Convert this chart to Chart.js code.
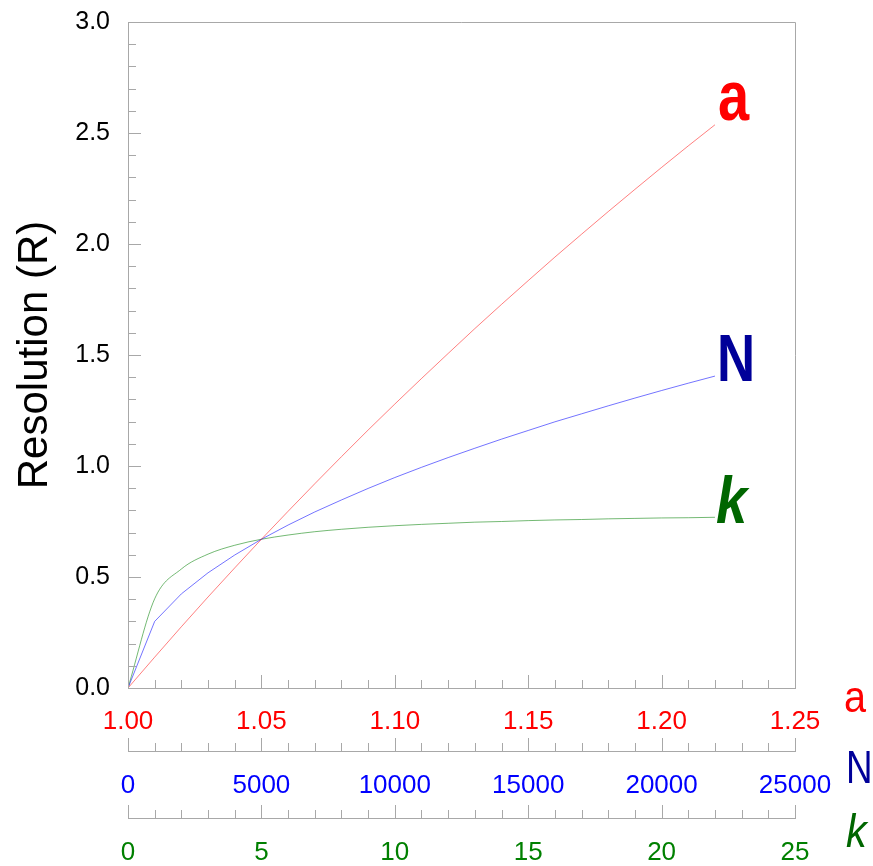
<!DOCTYPE html>
<html><head><meta charset="utf-8">
<script src="https://cdn.jsdelivr.net/npm/chart.js@4.4.0/dist/chart.umd.min.js"></script>
<style>html,body{margin:0;padding:0;background:#fff;}#wrap{width:873px;height:866px;}</style>
</head><body><div id="wrap"><canvas id="c" width="873" height="866"></canvas></div>
<script>
// ---- data ----
const alphaValues = [1.00,1.01,1.02,1.03,1.04,1.05,1.06,1.07,1.08,1.09,1.10,1.11,1.12,1.13,1.14,1.15,1.16,1.17,1.18,1.19,1.20,1.21,1.22];
const resolutionVsAlpha = [0,0.139,0.276,0.410,0.541,0.670,0.796,0.920,1.042,1.162,1.279,1.394,1.507,1.619,1.728,1.835,1.941,2.044,2.146,2.246,2.345,2.442,2.537];
const plateValues = [0,1000,2000,3000,4000,5000,6000,7000,8000,9000,10000,11000,12000,13000,14000,15000,16000,17000,18000,19000,20000,21000,22000];
const resolutionVsPlates = [0,0.300,0.424,0.519,0.599,0.670,0.734,0.793,0.847,0.899,0.948,0.994,1.038,1.080,1.121,1.160,1.199,1.235,1.271,1.306,1.340,1.373,1.405];
const retentionValues = [0,1,2,3,4,5,6,7,8,9,10,11,12,13,14,15,16,17,18,19,20,21,22];
const resolutionVsRetention = [0,0.402,0.536,0.603,0.643,0.670,0.689,0.704,0.715,0.724,0.731,0.737,0.742,0.747,0.750,0.754,0.757,0.759,0.762,0.764,0.766,0.767,0.769];
const yTickLabels = ['0.0','0.5','1.0','1.5','2.0','2.5','3.0'];
const alphaTickLabels = ['1.00','1.05','1.10','1.15','1.20','1.25'];
const plateTickLabels = ['0','5000','10000','15000','20000','25000'];
const retentionTickLabels = ['0','5','10','15','20','25'];
const yTitle = 'Resolution (R)';

const FONT = "'Liberation Sans', Arial, Helvetica, sans-serif";
const toPts = (xs, ys) => xs.map((x, i) => ({x: x, y: ys[i]}));

function xScale(min, max, step, labels, color, height, pad) {
  return {
    type: 'linear', position: 'bottom', min: min, max: max,
    grid: {display: false, drawTicks: false},
    border: {display: true, color: '#a8a8a8', width: 1},
    ticks: {
      stepSize: step, autoSkip: false, maxRotation: 0, padding: pad,
      color: color, font: {family: FONT, size: 26},
      callback: (v) => { const i = Math.round((v - min) / step); return labels[i]; }
    },
    afterFit: (s) => { s.height = height; }
  };
}

const minorSpec = [
  {id: 'xa', min: 1.0, step: 0.01, n: 25},
  {id: 'xn', min: 0, step: 1000, n: 25},
  {id: 'xk', min: 0, step: 1, n: 25}
];

function drawText(ctx, text, x, y, font, color, sx) {
  ctx.save();
  ctx.font = font; ctx.fillStyle = color;
  ctx.textAlign = 'left'; ctx.textBaseline = 'alphabetic';
  ctx.translate(x, y); ctx.scale(sx, 1);
  ctx.fillText(text, 0, 0);
  ctx.restore();
}

const decor = {
  id: 'decor',
  afterDraw(chart) {
    const ctx = chart.ctx, ca = chart.chartArea;
    ctx.save();
    ctx.strokeStyle = '#a8a8a8'; ctx.lineWidth = 1;
    ctx.beginPath();
    ctx.moveTo(ca.left, Math.round(ca.top) + 0.5);
    ctx.lineTo(Math.round(ca.right) + 0.5, Math.round(ca.top) + 0.5);
    ctx.lineTo(Math.round(ca.right) + 0.5, ca.bottom);
    ctx.stroke();
    // y inner ticks
    const ys = chart.scales.y;
    ctx.beginPath();
    for (let i = 0; i <= 30; i++) {
      const p = Math.round(ys.getPixelForValue(i * 0.1)) + 0.5;
      const len = i % 5 === 0 ? 13 : 8;
      ctx.moveTo(ca.left, p); ctx.lineTo(ca.left + len, p);
    }
    // x inner ticks
    minorSpec.forEach(m => {
      const s = chart.scales[m.id];
      for (let i = 0; i <= m.n; i++) {
        const p = Math.round(s.getPixelForValue(m.min + i * m.step)) + 0.5;
        const len = i % 5 === 0 ? 13 : 8;
        ctx.moveTo(p, s.top); ctx.lineTo(p, s.top - len);
      }
    });
    ctx.stroke();
    ctx.restore();

    // labels at line ends
    const endPt = (di) => { const m = chart.getDatasetMeta(di).data; return m[m.length - 1]; };
    const pa = endPt(0), pn = endPt(1), pk = endPt(2);
    drawText(ctx, 'a', pa.x + 3, pa.y - 5, 'bold 70px ' + FONT, '#ff0000', 0.8);
    drawText(ctx, 'N', pn.x + 2, pn.y + 5, 'bold 66px ' + FONT, '#000099', 0.8);
    drawText(ctx, 'k', pk.x + 1, pk.y + 6, 'italic bold 66px ' + FONT, '#006600', 0.85);

    // axis side titles
    const right = ca.right;
    drawText(ctx, 'a', right + 49, chart.scales.xa.top + 24, '44px ' + FONT, '#ff0000', 0.9);
    drawText(ctx, 'N', right + 51, chart.scales.xn.top + 32, '46px ' + FONT, '#000099', 0.8);
    drawText(ctx, 'k', right + 51, chart.scales.xk.top + 29, 'italic 46px ' + FONT, '#006600', 0.9);
  }
};

new Chart(document.getElementById('c'), {
  type: 'line',
  data: {
    datasets: [
      {label: 'a', data: toPts(alphaValues, resolutionVsAlpha), xAxisID: 'xa', yAxisID: 'y',
       borderColor: 'rgba(255,0,0,0.5)', borderWidth: 1, pointRadius: 0, tension: 0, fill: false},
      {label: 'N', data: toPts(plateValues, resolutionVsPlates), xAxisID: 'xn', yAxisID: 'y',
       borderColor: 'rgba(0,0,255,0.55)', borderWidth: 1, pointRadius: 0, tension: 0, fill: false},
      {label: 'k', data: toPts(retentionValues, resolutionVsRetention), xAxisID: 'xk', yAxisID: 'y',
       borderColor: 'rgba(0,128,0,0.55)', borderWidth: 1, pointRadius: 0, tension: 0.4, cubicInterpolationMode: 'monotone', fill: false}
    ]
  },
  options: {
    responsive: false, animation: false, devicePixelRatio: 1,
    layout: {padding: {top: 22, right: 78, bottom: 0, left: 0}},
    plugins: {legend: {display: false}, tooltip: {enabled: false}},
    scales: {
      y: {
        type: 'linear', position: 'left', min: 0, max: 3,
        grid: {display: false, drawTicks: false},
        border: {display: true, color: '#a8a8a8', width: 1},
        ticks: {stepSize: 0.5, padding: 18, color: '#000', font: {family: FONT, size: 25},
                callback: (v) => yTickLabels[Math.round(v / 0.5)]},
        title: {display: true, text: yTitle, color: '#000', font: {family: FONT, size: 42}, padding: {top: 10, bottom: 0}},
        afterFit: (s) => { s.width = 128; s.paddingTop = 0; s.paddingBottom = 0; }
      },
      xa: xScale(1.0, 1.25, 0.05, alphaTickLabels, '#ff0000', 63, 18),
      xn: xScale(0, 25000, 5000, plateTickLabels, '#0000ff', 67, 19),
      xk: xScale(0, 25, 5, retentionTickLabels, '#008000', 48, 19)
    }
  },
  plugins: [decor]
});
</script></body></html>
